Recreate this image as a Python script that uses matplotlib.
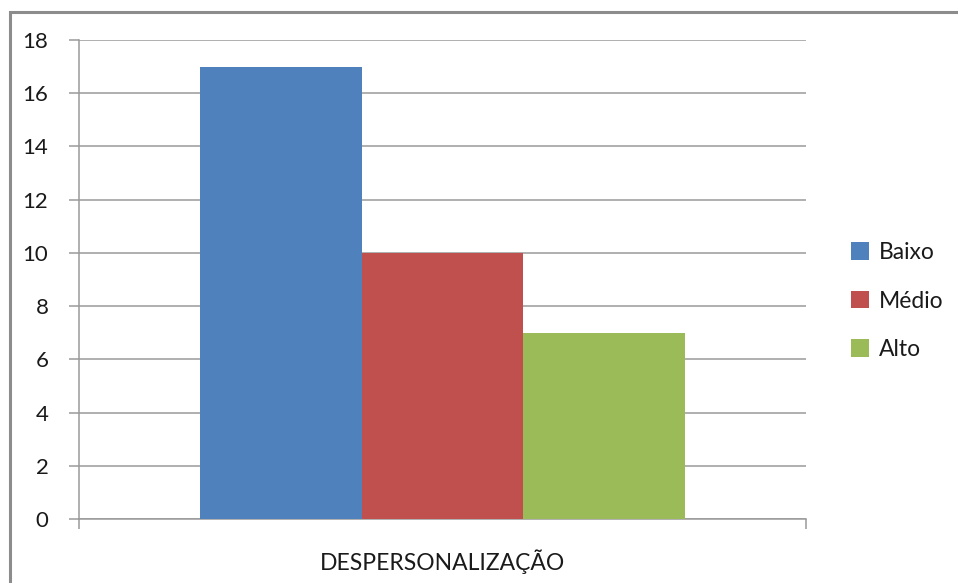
import matplotlib.pyplot as plt
from matplotlib.patches import Rectangle

category = "DESPERSONALIZAÇÃO"
series = ["Baixo", "Médio", "Alto"]
values = [17, 10, 7]
colors = ["#4F81BD", "#C0504D", "#9BBB59"]
yticks = [0, 2, 4, 6, 8, 10, 12, 14, 16, 18]

plt.rcParams['font.family'] = ['Lato', 'DejaVu Sans']

fig = plt.figure(figsize=(9.58, 5.83), dpi=100)
ax = fig.add_axes([79 / 958, 1 - 519 / 583, (806 - 79) / 958, (519 - 40) / 583])

# outer chart border (cut off at right and bottom like the screenshot)
fig.patches.append(Rectangle((10 / 958, -0.05), 1.0, 1 - 12 / 583 + 0.05,
                             transform=fig.transFigure, fill=False,
                             edgecolor="#8c8c8c", linewidth=2.2))

width = 0.222
offsets = [-width, 0, width]
for name, v, c, off in zip(series, values, colors, offsets):
    ax.bar(off, v, width=width, color=c, label=name, zorder=3)

ax.set_xlim(-0.5, 0.5)
ax.set_ylim(0, 18)
ax.set_yticks(yticks)
ax.yaxis.grid(True, color="#9a9a9a", linewidth=1.1, zorder=0)
ax.set_axisbelow(True)

for s in ["top", "right"]:
    ax.spines[s].set_visible(False)
for s in ["left", "bottom"]:
    ax.spines[s].set_color("#9a9a9a")
    ax.spines[s].set_linewidth(1.1)

ax.set_xticks([0])
ax.set_xticklabels([category], fontsize=16.5)
ax.set_xticks([-0.5, 0.5], minor=True)
ax.tick_params(axis="x", which="major", length=0, pad=22, colors="#1a1a1a")
ax.tick_params(axis="x", which="minor", length=7, width=1.1, color="#9a9a9a")
ax.tick_params(axis="y", length=7, width=1.1, color="#9a9a9a", labelsize=16,
               pad=15, labelcolor="#1a1a1a")

leg = ax.legend(loc="center left", bbox_to_anchor=(1.062, 0.455), frameon=False,
                fontsize=16.5, handlelength=0.8, handleheight=0.8,
                handletextpad=0.4, labelspacing=1.2, borderaxespad=0,
                borderpad=0)
for t in leg.get_texts():
    t.set_color("#1a1a1a")

fig.savefig("out.png", dpi=100)
